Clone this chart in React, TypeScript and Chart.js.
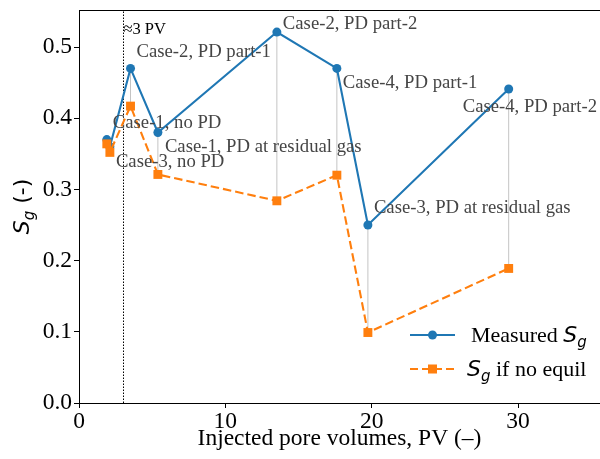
import React, { useEffect, useRef } from "react";
import { Chart, registerables } from "chart.js";

Chart.register(...registerables);

// ---- data ----
const pvInjected = [1.9, 2.11, 3.52, 5.39, 13.52, 17.62, 19.74, 29.36];
const measuredSg = [0.37, 0.36, 0.47, 0.38, 0.521, 0.47, 0.25, 0.441];
const noEquilSg = [0.364, 0.352, 0.417, 0.321, 0.284, 0.32, 0.099, 0.189];
const caseLabels = [
  "Case-1, no PD",
  "Case-3, no PD",
  "Case-2, PD part-1",
  "Case-1, PD at residual gas",
  "Case-2, PD part-2",
  "Case-4, PD part-1",
  "Case-3, PD at residual gas",
  "Case-4, PD part-2",
];
const xTicks = [0, 10, 20, 30];
const yTicks = [0, 0.1, 0.2, 0.3, 0.4, 0.5];
const markerPV = 3;
const markerLabel = "≈3 PV";
const xTitle = "Injected pore volumes, PV (–)";

// ---- styles ----
const BLUE = "#1f77b4";
const ORANGE = "#ff7f0e";
const SERIF = "'Liberation Serif', 'Times New Roman', serif";
const MATH = "'DejaVu Sans', sans-serif";
// pixel offsets of each annotation from its measured point [dx, dy]
const labelOffsets: [number, number][] = [
  [6, -16],
  [6, 15],
  [6, -16],
  [7, 15],
  [6, -8],
  [6, 15],
  [6, -17],
  [-46, 18],
];

type Part = { text: string; font: string; dy?: number };

function partsWidth(ctx: CanvasRenderingContext2D, parts: Part[]) {
  let w = 0;
  for (const p of parts) {
    ctx.font = p.font;
    w += ctx.measureText(p.text).width;
  }
  return w;
}

function drawParts(ctx: CanvasRenderingContext2D, parts: Part[], x: number, y: number) {
  let cx = x;
  for (const p of parts) {
    ctx.font = p.font;
    ctx.fillText(p.text, cx, y + (p.dy || 0));
    cx += ctx.measureText(p.text).width;
  }
}

const sgParts = (size: number): Part[] => [
  { text: "S", font: `italic ${size}px ${MATH}` },
  { text: "g", font: `italic ${Math.round(size * 0.7)}px ${MATH}`, dy: size * 0.22 },
];

const overlayPlugin = {
  id: "overlay",
  beforeDatasetsDraw(chart: any) {
    const { ctx, chartArea, scales } = chart;
    const xs = scales.x;
    const ys = scales.y;
    ctx.save();
    // thin grey connectors between measured and no-equil values
    ctx.strokeStyle = "#c4c4c4";
    ctx.lineWidth = 1;
    for (let i = 0; i < pvInjected.length; i++) {
      const px = xs.getPixelForValue(pvInjected[i]);
      ctx.beginPath();
      ctx.moveTo(px, ys.getPixelForValue(measuredSg[i]));
      ctx.lineTo(px, ys.getPixelForValue(noEquilSg[i]));
      ctx.stroke();
    }
    // dotted reference line
    const mx = Math.round(xs.getPixelForValue(markerPV)) + 0.5;
    ctx.strokeStyle = "#000";
    ctx.setLineDash([1.5, 1.5]);
    ctx.beginPath();
    ctx.moveTo(mx, chartArea.bottom);
    ctx.lineTo(mx, chartArea.top);
    ctx.stroke();
    ctx.setLineDash([]);
    // top spine
    ctx.beginPath();
    ctx.moveTo(chartArea.left, chartArea.top + 0.5);
    ctx.lineTo(chartArea.right, chartArea.top + 0.5);
    ctx.stroke();
    ctx.restore();
  },
  afterDatasetsDraw(chart: any) {
    const { ctx, chartArea, scales } = chart;
    const xs = scales.x;
    const ys = scales.y;
    ctx.save();
    // annotations
    ctx.fillStyle = "#454545";
    ctx.font = `18.7px ${SERIF}`;
    ctx.textBaseline = "middle";
    ctx.textAlign = "left";
    for (let i = 0; i < caseLabels.length; i++) {
      const px = xs.getPixelForValue(pvInjected[i]);
      const py = ys.getPixelForValue(measuredSg[i]);
      ctx.fillText(caseLabels[i], px + labelOffsets[i][0], py + labelOffsets[i][1]);
    }
    // marker label
    ctx.fillStyle = "#000";
    ctx.font = `16.5px ${SERIF}`;
    ctx.fillText(markerLabel, xs.getPixelForValue(markerPV) + 0.5, chartArea.top + 20);

    // legend
    ctx.textBaseline = "alphabetic";
    const rows = [
      { color: BLUE, dash: [] as number[], shape: "circle", parts: [{ text: "Measured ", font: `22px ${SERIF}` }, ...sgParts(22)], tx: 471 },
      { color: ORANGE, dash: [8, 4], shape: "rect", parts: [...sgParts(22), { text: " if no equil", font: `22px ${SERIF}` }], tx: 467 },
    ];
    const rowY = [chartArea.bottom - 68, chartArea.bottom - 34];
    rows.forEach((r, k) => {
      const y = rowY[k];
      const x0 = chartArea.right - 190;
      const x1 = chartArea.right - 145;
      ctx.strokeStyle = r.color;
      ctx.lineWidth = 2;
      ctx.setLineDash(r.dash);
      ctx.beginPath();
      ctx.moveTo(x0, y);
      ctx.lineTo(x1, y);
      ctx.stroke();
      ctx.setLineDash([]);
      ctx.fillStyle = r.color;
      const cx = (x0 + x1) / 2;
      if (r.shape === "circle") {
        ctx.beginPath();
        ctx.arc(cx, y, 4.5, 0, Math.PI * 2);
        ctx.fill();
      } else {
        ctx.fillRect(cx - 4.5, y - 4.5, 9, 9);
      }
      ctx.fillStyle = "#000";
      drawParts(ctx, r.parts, chartArea.right - 600 + r.tx, y + 7);
    });

    // y-axis title with subscript
    const yParts: Part[] = [...sgParts(22), { text: " (-)", font: `22px ${MATH}` }];
    const w = partsWidth(ctx, yParts);
    const cy = (chartArea.top + chartArea.bottom) / 2;
    ctx.translate(22, cy);
    ctx.rotate(-Math.PI / 2);
    ctx.fillStyle = "#000";
    drawParts(ctx, yParts, -w / 2, 7);
    ctx.restore();
  },
};

export default function App() {
  const canvasRef = useRef<HTMLCanvasElement | null>(null);

  useEffect(() => {
    if (!canvasRef.current) return;
    const chart = new Chart(canvasRef.current, {
      type: "line",
      data: {
        datasets: [
          {
            label: "Measured Sg",
            data: pvInjected.map((x, i) => ({ x, y: measuredSg[i] })),
            borderColor: BLUE,
            backgroundColor: BLUE,
            borderWidth: 2.1,
            pointRadius: 4.5,
            pointBorderWidth: 0,
            pointStyle: "circle",
            fill: false,
            tension: 0,
            order: 2,
          },
          {
            label: "Sg if no equil",
            data: pvInjected.map((x, i) => ({ x, y: noEquilSg[i] })),
            borderColor: ORANGE,
            backgroundColor: ORANGE,
            borderWidth: 2.1,
            borderDash: [8.5, 4],
            pointRadius: 6.3,
            pointBorderWidth: 0,
            pointStyle: "rect",
            fill: false,
            tension: 0,
            order: 1,
          },
        ],
      },
      options: {
        responsive: false,
        animation: false,
        devicePixelRatio: 1,
        layout: { autoPadding: false, padding: { top: 10, right: 0, left: 0, bottom: 0 } },
        plugins: {
          legend: { display: false },
          tooltip: { enabled: false },
        },
        scales: {
          x: {
            type: "linear",
            min: 0,
            max: 35.6,
            afterBuildTicks: (s: any) => {
              s.ticks = xTicks.map((v) => ({ value: v }));
            },
            afterFit: (s: any) => {
              s.height = 56;
              s.paddingLeft = 0;
              s.paddingRight = 0;
            },
            grid: { display: true, drawOnChartArea: false, drawTicks: true, tickLength: 5, color: "#000", lineWidth: 1 },
            border: { display: true, color: "#000", width: 1 },
            ticks: {
              color: "#000",
              font: { family: SERIF, size: 23.5 },
              padding: 0,
              maxRotation: 0,
              autoSkip: false,
              callback: (v: any) => String(v),
            },
            title: {
              display: true,
              text: xTitle,
              color: "#000",
              font: { family: SERIF, size: 23.5 },
              padding: { top: 0, bottom: 6 },
            },
          },
          y: {
            type: "linear",
            min: 0,
            max: 0.552,
            afterBuildTicks: (s: any) => {
              s.ticks = yTicks.map((v) => ({ value: v }));
            },
            afterFit: (s: any) => {
              s.width = 79;
              s.paddingTop = 0;
              s.paddingBottom = 0;
            },
            grid: { display: true, drawOnChartArea: false, drawTicks: true, tickLength: 5, color: "#000", lineWidth: 1 },
            border: { display: true, color: "#000", width: 1 },
            ticks: {
              color: "#000",
              font: { family: SERIF, size: 23.5 },
              padding: 2,
              autoSkip: false,
              callback: (v: any) => Number(v).toFixed(1),
            },
          },
        },
      },
      plugins: [overlayPlugin],
    } as any);
    return () => chart.destroy();
  }, []);

  return (
    <div style={{ position: "absolute", left: 0, top: 0, width: 600, height: 459, background: "#fff" }}>
      <canvas ref={canvasRef} width={600} height={459} style={{ width: 600, height: 459 }} />
    </div>
  );
}
